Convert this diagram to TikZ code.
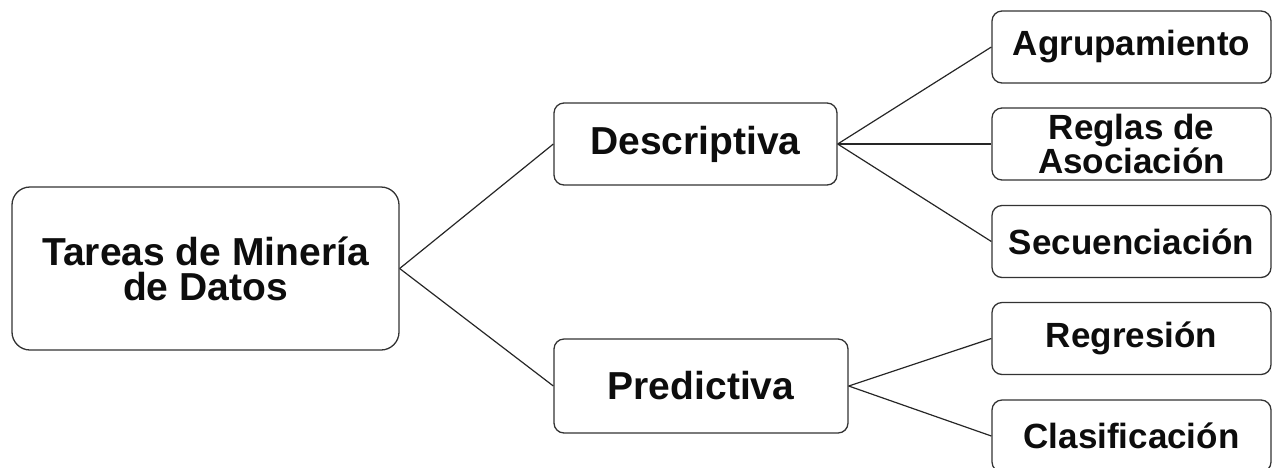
\documentclass[tikz,border=0pt]{standalone}
\usepackage{fontspec}
\setmainfont{Liberation Sans}
\begin{document}
\begin{tikzpicture}[x=1pt,y=-1pt,
  box/.style={draw=black!80, line width=1.3pt, rounded corners=10pt, fill=white,
    text=black!95, font=\bfseries, align=center, inner sep=0pt},
  link/.style={draw=black!85, line width=1.2pt}]
\useasboundingbox (0,0) rectangle (1273,467);
\clip (0,0) rectangle (1273,467);
% root
\node[box, rounded corners=18pt, minimum width=387pt, minimum height=163pt,
  font=\bfseries\fontsize{39}{35}\selectfont] (root) at (205.5,268.5)
  {Tareas de Minería\\de Datos};
% first level
\node[box, minimum width=283pt, minimum height=82pt,
  font=\bfseries\fontsize{39}{35}\selectfont] (desc) at (695.5,144) {Descriptiva};
\node[box, minimum width=294pt, minimum height=94pt,
  font=\bfseries\fontsize{39}{35}\selectfont] (pred) at (701,386) {Predictiva};
% second level
\tikzset{leaf/.style={box, minimum width=279pt, minimum height=72pt,
  font=\bfseries\fontsize{35}{31}\selectfont}}
\node[leaf] (agr) at (1131.5,47) {Agrupamiento};
\node[leaf] (reg) at (1131.5,144) {Reglas de\\Asociación};
\node[leaf] (sec) at (1131.5,241.5) {Secuenciación};
\node[leaf] (rgr) at (1131.5,338.5) {Regresión};
\node[leaf] (cla) at (1131.5,436) {Clasificación};
% connectors
\draw[link] (root.east) -- (desc.west);
\draw[link] (root.east) -- (pred.west);
\draw[link] (desc.east) -- (agr.west);
\draw[link] (desc.east) -- (reg.west);
\draw[link] (desc.east) -- (sec.west);
\draw[link] (pred.east) -- (rgr.west);
\draw[link] (pred.east) -- (cla.west);
\end{tikzpicture}
\end{document}
